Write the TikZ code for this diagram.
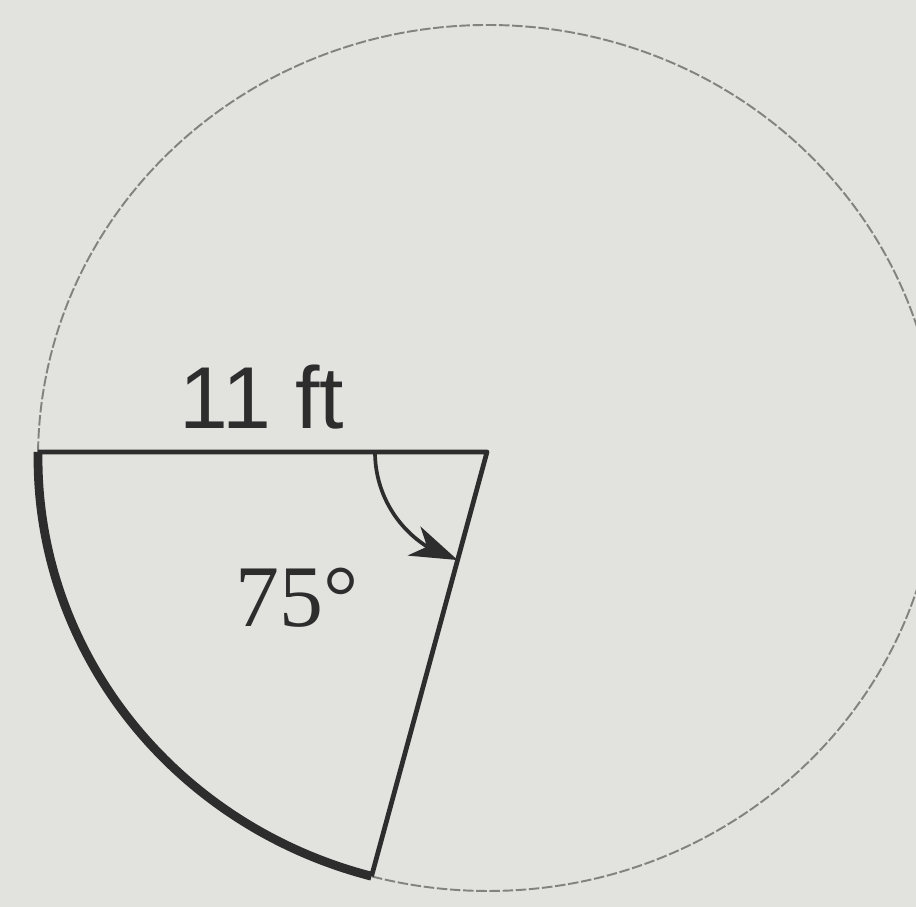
\documentclass[tikz,border=0pt]{standalone}
\usepackage{fontspec}
\setmainfont{Liberation Serif}
\setsansfont{Liberation Sans}
\usetikzlibrary{calc,arrows.meta,bending}
\definecolor{paper}{RGB}{226,226,222}
\definecolor{ink}{RGB}{45,45,45}
\definecolor{pencil}{RGB}{130,130,128}
\begin{document}
\begin{tikzpicture}[>={Stealth[length=27pt,width=18pt,inset=8pt]},
  side/.style={draw=ink,line width=2.7pt},
  heavy/.style={draw=ink,line width=5pt},
  rim/.style={draw=pencil,line width=1.1pt,dash pattern=on 6pt off 1.5pt},
  label/.style={text=ink,inner sep=0pt}]
  \fill[paper] (0,0) rectangle (18.32,18.14);
  \clip (0,0) rectangle (18.32,18.14);
  \coordinate (mid) at (9.76,8.98);
  \coordinate (centre) at (9.74,9.10);
  \coordinate (left) at ($(mid)+(179.2:9.0 and 8.66)$);
  \coordinate (low) at ($(mid)+(255:9.0 and 8.66)$);
  \coordinate (turn) at ($(centre)+(180:2.24)$);
  \draw[rim] (mid) ellipse [x radius=9.0, y radius=8.66];
  \draw[heavy] (left) arc [start angle=179.2, end angle=255, x radius=9.0, y radius=8.66];
  \draw[side,line join=round] (left) -- (centre) -- (low);
  \draw[side,line width=2.1pt,->] (turn) arc [start angle=180, end angle=254.8, radius=2.24];
  \node[label,font=\sffamily\fontsize{50}{56}\selectfont] (length) at (5.24,10.2) {11 ft};
  \node[label,font=\fontsize{50}{56}\selectfont] (angle) at (5.94,6.18) {75°};
\end{tikzpicture}
\end{document}
